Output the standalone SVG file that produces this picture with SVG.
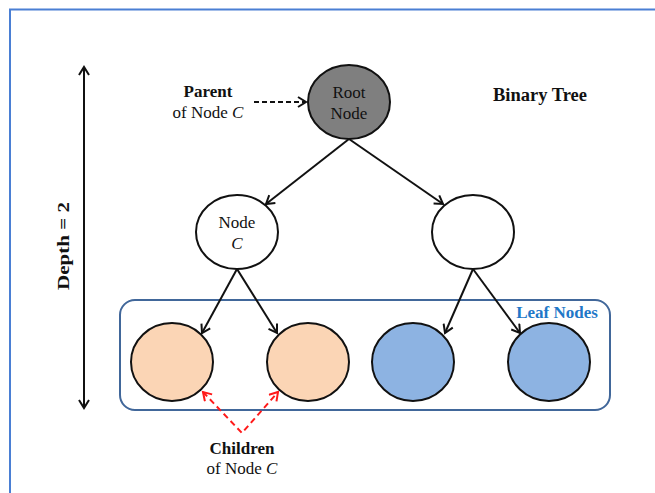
<svg xmlns="http://www.w3.org/2000/svg" width="655" height="493" viewBox="0 0 655 493">
  <style>
    text { font-family: "Liberation Serif", "Times New Roman", serif; font-size: 17px; fill: #111; }
    .b { font-weight: bold; }
    .i { font-style: italic; }
    .node { stroke: #111; stroke-width: 2; }
    .edge { stroke: #111; stroke-width: 2; fill: none; }
  </style>
  <defs>
    <marker id="chev" viewBox="0 0 12 12" refX="10" refY="6" markerWidth="12" markerHeight="12" markerUnits="userSpaceOnUse" orient="auto-start-reverse">
      <path d="M2,1 L10,6 L2,11" fill="none" stroke="#111" stroke-width="2"/>
    </marker>
    <marker id="chevRed" viewBox="0 0 12 12" refX="10" refY="6" markerWidth="12" markerHeight="12" markerUnits="userSpaceOnUse" orient="auto-start-reverse">
      <path d="M2,1 L10,6 L2,11" fill="none" stroke="#ff1a1a" stroke-width="2"/>
    </marker>
  </defs>

  <rect width="655" height="493" fill="#ffffff"/>
  <!-- page frame -->
  <path d="M10,493 L10,9.5 L655,9.5" fill="none" stroke="#4a7fd4" stroke-width="2"/>

  <!-- leaf group box -->
  <g id="leaf-box">
    <rect x="120" y="300" width="490" height="110" rx="15" fill="none" stroke="#41679a" stroke-width="2"/>
    <text class="b" x="557" y="318" text-anchor="middle" style="fill:#1f78c8;font-size:17px">Leaf Nodes</text>
  </g>

  <!-- depth indicator -->
  <g id="depth">
    <line x1="84" y1="67" x2="84" y2="408" class="edge" stroke-width="1.5" marker-start="url(#chev)" marker-end="url(#chev)"/>
    <text class="b" transform="translate(69,246) rotate(-90)" text-anchor="middle" style="font-size:16px" textLength="88" lengthAdjust="spacingAndGlyphs">Depth = 2</text>
  </g>

  <!-- connectors -->
  <g id="connectors">
    <line class="edge" x1="349" y1="139" x2="266" y2="204" marker-end="url(#chev)"/>
    <line class="edge" x1="349" y1="139" x2="443" y2="204" marker-end="url(#chev)"/>
    <line class="edge" x1="237" y1="269" x2="202" y2="333" marker-end="url(#chev)"/>
    <line class="edge" x1="237" y1="269" x2="277" y2="333" marker-end="url(#chev)"/>
    <line class="edge" x1="473" y1="269" x2="445" y2="333" marker-end="url(#chev)"/>
    <line class="edge" x1="473" y1="269" x2="520" y2="333" marker-end="url(#chev)"/>
    <line class="edge" x1="254" y1="102" x2="306" y2="102" stroke-dasharray="5,3" marker-end="url(#chev)"/>
    <path d="M203,392 L242,433 L278,392" fill="none" stroke="#ff1a1a" stroke-width="2" stroke-dasharray="6,4" marker-start="url(#chevRed)" marker-end="url(#chevRed)"/>
  </g>

  <!-- tree nodes -->
  <g id="root">
    <ellipse class="node" cx="349" cy="102" rx="41" ry="37" fill="#7f7f7f"/>
    <text x="349" y="98" text-anchor="middle">Root</text>
    <text x="349" y="119" text-anchor="middle">Node</text>
  </g>
  <g id="node-c">
    <ellipse class="node" cx="237" cy="232" rx="41" ry="37" fill="#ffffff"/>
    <text x="237" y="228" text-anchor="middle">Node</text>
    <text class="i" x="237" y="249" text-anchor="middle">C</text>
  </g>
  <g id="node-r">
    <ellipse class="node" cx="473" cy="232" rx="41" ry="37" fill="#ffffff"/>
  </g>
  <g id="leaf-1">
    <ellipse class="node" cx="172" cy="362" rx="41" ry="39" fill="#fbd5b5"/>
  </g>
  <g id="leaf-2">
    <ellipse class="node" cx="308" cy="362" rx="41" ry="39" fill="#fbd5b5"/>
  </g>
  <g id="leaf-3">
    <ellipse class="node" cx="413" cy="362" rx="41" ry="39" fill="#8db3e2"/>
  </g>
  <g id="leaf-4">
    <ellipse class="node" cx="549" cy="362" rx="41" ry="39" fill="#8db3e2"/>
  </g>

  <!-- annotations -->
  <g id="parent-label">
    <text class="b" x="208" y="97" text-anchor="middle">Parent</text>
    <text x="208" y="118" text-anchor="middle">of Node <tspan class="i">C</tspan></text>
  </g>
  <g id="children-label">
    <text class="b" x="242" y="454" text-anchor="middle">Children</text>
    <text x="242" y="474" text-anchor="middle">of Node <tspan class="i">C</tspan></text>
  </g>
  <g id="title">
    <text class="b" x="540" y="101" text-anchor="middle" style="font-size:18.5px">Binary Tree</text>
  </g>
</svg>
